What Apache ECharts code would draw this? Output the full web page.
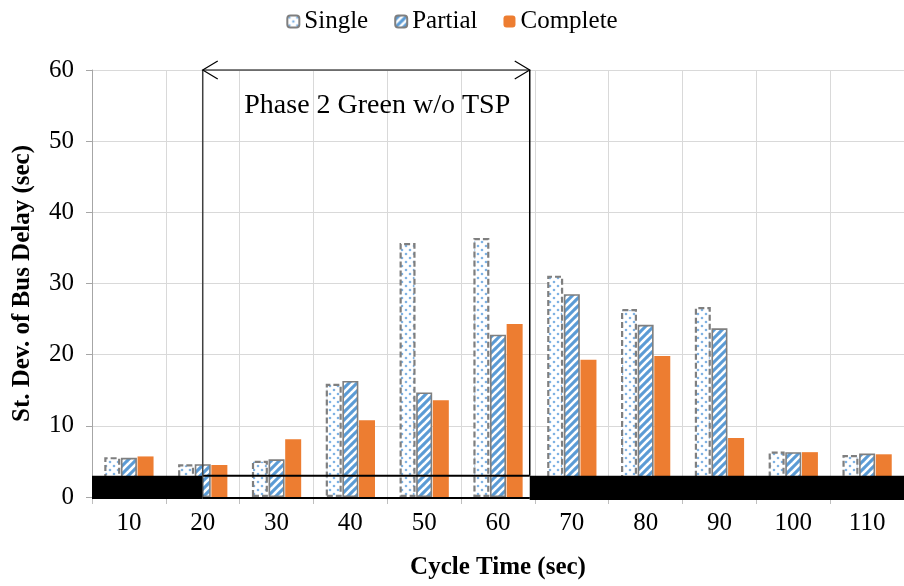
<!DOCTYPE html>
<html>
<head>
<meta charset="utf-8">
<script src="https://cdn.jsdelivr.net/npm/echarts@6/dist/echarts.min.js"></script>
<style>
  html, body { margin: 0; padding: 0; background: #fff; }
  #chart { width: 904px; height: 586px; }
</style>
</head>
<body>
<div id="chart"></div>
<script>
// Cycle lengths (sec)
const categories = ['10', '20', '30', '40', '50', '60', '70', '80', '90', '100', '110'];
// Standard deviation of bus delay (sec) per TSP coordination type
const singleVals = [5.6, 4.6, 5.1, 15.9, 35.7, 36.4, 31.1, 26.4, 26.7, 6.4, 5.9];
const partialVals = [5.5, 4.6, 5.3, 16.3, 14.7, 22.8, 28.5, 24.2, 23.7, 6.3, 6.1];
const completeVals = [5.7, 4.5, 8.1, 10.8, 13.6, 24.3, 19.3, 19.8, 8.3, 6.3, 6.0];
const yTicks = [0, 10, 20, 30, 40, 50, 60];

const FONT = "'Liberation Serif', 'Times New Roman', serif";

// Dotted fill for the "Single" bars
function dotPattern() {
  const c = document.createElement('canvas');
  c.width = 8; c.height = 8;
  const g = c.getContext('2d');
  g.fillStyle = '#ffffff';
  g.fillRect(0, 0, 8, 8);
  g.fillStyle = '#7fb2e3';
  g.beginPath(); g.arc(2, 2, 1.3, 0, Math.PI * 2); g.fill();
  g.beginPath(); g.arc(6, 6, 1.3, 0, Math.PI * 2); g.fill();
  return c;
}

// Wide upward-diagonal stripes for the "Partial" bars
function stripePattern() {
  const s = 8;
  const c = document.createElement('canvas');
  c.width = s; c.height = s;
  const g = c.getContext('2d');
  g.fillStyle = '#5b9bd5';
  g.fillRect(0, 0, s, s);
  g.strokeStyle = '#ffffff';
  g.lineWidth = 2.6;
  for (const k of [-s, 0, s]) {
    g.beginPath();
    g.moveTo(k - 1, s + 1);
    g.lineTo(k + s + 1, -1);
    g.stroke();
  }
  return c;
}

const chart = echarts.init(document.getElementById('chart'), null, { renderer: 'canvas' });

const option = {
  animation: false,
  backgroundColor: '#ffffff',
  textStyle: { fontFamily: FONT, color: '#000' },
  legend: {
    top: 4,
    left: 'center',
    itemWidth: 12,
    itemHeight: 12,
    itemGap: 26,
    textStyle: { fontFamily: FONT, fontSize: 25, color: '#000' },
    data: ['Single', 'Partial', 'Complete']
  },
  grid: { left: 92, right: 0, top: 70, bottom: 89, containLabel: false },
  xAxis: {
    type: 'category',
    data: categories,
    name: 'Cycle Time (sec)',
    nameLocation: 'middle',
    nameGap: 58,
    nameTextStyle: { fontFamily: FONT, fontSize: 25, fontWeight: 'bold', color: '#000' },
    axisLine: { lineStyle: { color: '#bfbfbf', width: 1 } },
    axisTick: { show: true, length: 7, lineStyle: { color: '#bfbfbf' } },
    axisLabel: { fontFamily: FONT, fontSize: 25, color: '#000', margin: 14 },
    splitLine: { show: true, lineStyle: { color: '#d9d9d9', width: 1 } }
  },
  yAxis: {
    type: 'value',
    min: yTicks[0],
    max: yTicks[yTicks.length - 1],
    interval: 10,
    name: 'St. Dev. of Bus Delay (sec)',
    nameLocation: 'middle',
    nameGap: 57,
    nameTextStyle: { fontFamily: FONT, fontSize: 25, fontWeight: 'bold', color: '#000' },
    axisLine: { show: true, lineStyle: { color: '#a6a6a6', width: 1 } },
    axisTick: { show: true, length: 6, lineStyle: { color: '#a6a6a6' } },
    axisLabel: { fontFamily: FONT, fontSize: 25, color: '#000', margin: 18 },
    splitLine: { show: true, lineStyle: { color: '#d9d9d9', width: 1 } }
  },
  series: [
    {
      name: 'Single',
      type: 'bar',
      data: singleVals,
      barWidth: 16,
      barGap: '4%',
      itemStyle: {
        color: { image: dotPattern(), repeat: 'repeat' },
        borderColor: '#7f7f7f',
        borderWidth: 2.2,
        borderType: [6, 3]
      }
    },
    {
      name: 'Partial',
      type: 'bar',
      data: partialVals,
      barWidth: 16,
      barGap: '4%',
      itemStyle: {
        color: { image: stripePattern(), repeat: 'repeat' },
        borderColor: '#7f7f7f',
        borderWidth: 1.6
      }
    },
    {
      name: 'Complete',
      type: 'bar',
      data: completeVals,
      barWidth: 16,
      barGap: '4%',
      itemStyle: { color: '#ed7d31' }
    }
  ]
};

chart.setOption(option);

// Overlay: phase bracket and baseline masks, placed through the grid's scales
function drawOverlay() {
  const px = (cat, v) => chart.convertToPixel({ gridIndex: 0 }, [cat, v]);
  const bw = px(1, 0)[0] - px(0, 0)[0];
  const gridLeft = px(0, 0)[0] - bw / 2;
  const W = chart.getWidth();
  const xL = px(1, 0)[0];              // centre of the 20 s cycle
  const xR = px(5, 0)[0] + 0.43 * bw;  // just past the 60 s bars
  const yTop = px(0, 60)[1];
  const y0 = px(0, 0)[1];
  const y3 = px(0, 3)[1];
  const black = '#000';

  const els = [
    { type: 'rect', z: 100, shape: { x: gridLeft, y: y3, width: xL - gridLeft, height: y0 - y3 + 2 }, style: { fill: black } },
    { type: 'rect', z: 100, shape: { x: xR, y: y3, width: W - xR, height: y0 - y3 + 3 }, style: { fill: black } },
    { type: 'line', z: 100, shape: { x1: xL, y1: y3, x2: xR, y2: y3 }, style: { stroke: black, lineWidth: 2 } },
    { type: 'line', z: 100, shape: { x1: xL, y1: y0 + 1, x2: xR, y2: y0 + 1 }, style: { stroke: black, lineWidth: 2 } },
    { type: 'line', z: 100, shape: { x1: xL, y1: yTop, x2: xL, y2: y0 }, style: { stroke: '#404040', lineWidth: 1.5 } },
    { type: 'line', z: 100, shape: { x1: xR, y1: yTop, x2: xR, y2: y3 }, style: { stroke: black, lineWidth: 1.5 } },
    { type: 'line', z: 100, shape: { x1: xL, y1: yTop, x2: xR, y2: yTop }, style: { stroke: black, lineWidth: 1.2 } },
    { type: 'polyline', z: 100, shape: { points: [[xL + 15, yTop - 9], [xL, yTop], [xL + 15, yTop + 9]] }, style: { stroke: black, lineWidth: 1.2, fill: null } },
    { type: 'polyline', z: 100, shape: { points: [[xR - 15, yTop - 9], [xR, yTop], [xR - 15, yTop + 9]] }, style: { stroke: black, lineWidth: 1.2, fill: null } },
    {
      type: 'text', z: 100,
      x: (xL + xR) / 2 + 11, y: yTop + 36,
      style: { text: 'Phase 2 Green w/o TSP', font: '28px ' + FONT, fill: '#000', align: 'center', verticalAlign: 'middle' }
    }
  ];
  chart.setOption({ graphic: els });
}
drawOverlay();
</script>
</body>
</html>
